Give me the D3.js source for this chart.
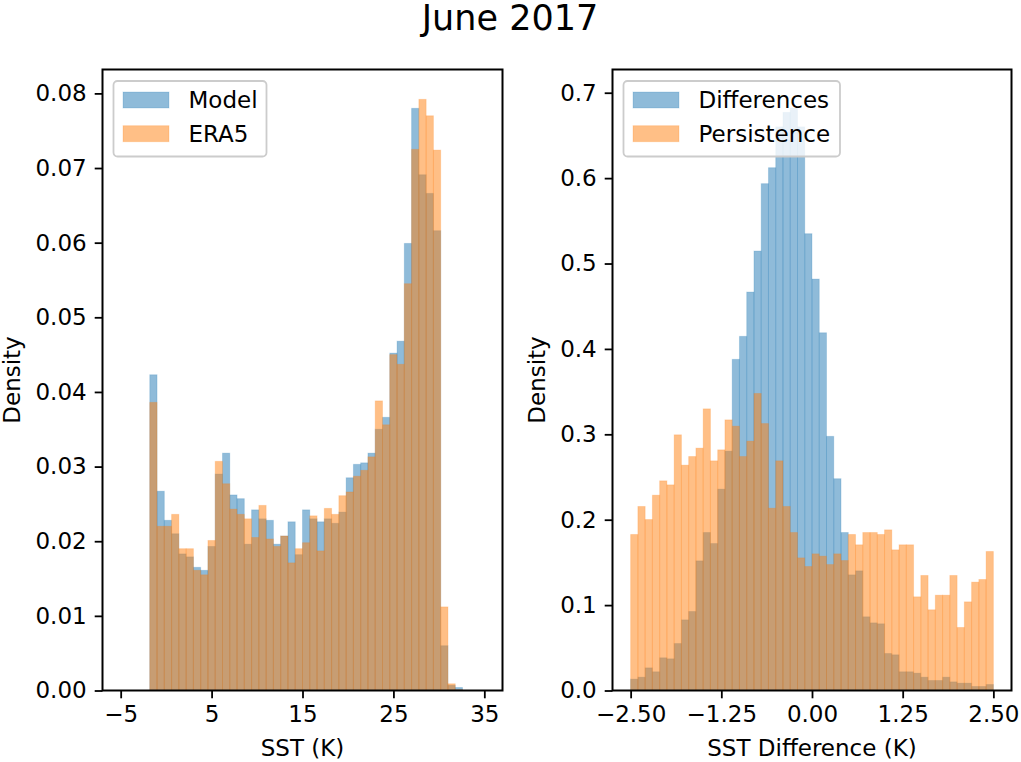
<!DOCTYPE html>
<html>
<head>
<meta charset="utf-8">
<script src="https://cdn.jsdelivr.net/npm/d3@7"></script>
<style>
html, body { margin: 0; padding: 0; background: #fff; }
text { font-family: "DejaVu Sans", sans-serif; fill: #000; }
</style>
</head>
<body>
<div id="chart-area"></div>
<script>
// left panel, 50 bins from -5 to 35
var sstEdges = [-5, 35];
var sstTicks = [-5, 5, 15, 25, 35];
var sstDensityTicks = [0, 0.01, 0.02, 0.03, 0.04, 0.05, 0.06, 0.07, 0.08];
var model = [0, 0, 0, 0,
    .0423, .0267, .0228, .0210, .0183, .0179, .0165, .0161, .0193, .0290,
    .0318, .0262, .0257, .0196, .0242, .0230, .0228, .0196, .0207, .0226,
    .0182, .0242, .0230, .0226, .0230, .0224, .0239, .0285, .0303, .0305,
    .0318, .0350, .0366, .0452, .0468, .0599, .0780, .0691, .0666, .0616,
    .0060, .0007, .0004, 0, 0, 0];
var era5 = [0, 0, 0, 0,
    .0386, .0220, .0220, .0236, .0190, .0190, .0161, .0155, .0201, .0307,
    .0277, .0243, .0236, .0230, .0205, .0248, .0203, .0193, .0207, .0171,
    .0190, .0198, .0234, .0187, .0244, .0236, .0261, .0266, .0287, .0295,
    .0313, .0388, .0356, .0450, .0437, .0545, .0725, .0792, .0770, .0724,
    .0112, .0009, .0001, 0, 0, 0];

// right panel, 50 bins from -2.5 to 2.5
var diffEdges = [-2.5, 2.5];
var diffTicks = [-2.5, -1.25, 0, 1.25, 2.5];
var diffDensityTicks = [0, 0.1, 0.2, 0.3, 0.4, 0.5, 0.6, 0.7];
var differences = [
    .0133, .0156, .0265, .0219, .0383, .0371, .0550, .0827, .0925, .1518,
    .1850, .1721, .2358, .2803, .3878, .4147, .4666, .5146, .5935, .6122,
    .6600, .6770, .6820, .6600, .5349, .4818, .4189, .2976, .2480, .1850,
    .1354, .1401, .0863, .0792, .0781, .0433, .0418, .0219, .0219, .0203,
    .0156, .0117, .0117, .0156, .0101, .0086, .0086, .0047, .0047, .0070];
var persistence = [
    .1827, .2155, .2002, .2287, .2455, .2408, .2994, .2639, .2740, .2838,
    .3298, .2689, .2818, .3169, .3095, .2740, .2920, .3478, .3126, .2135,
    .2689, .2155, .1850, .1553, .1452, .1600, .1573, .1475, .1600, .1522,
    .1827, .1706, .1850, .1850, .1827, .1881, .1647, .1706, .1706, .1097,
    .1347, .0945, .1116, .1116, .1347, .0738, .1038, .1269, .1300, .1628];

var minus = (s) => s.replace("-", "\u2212");
var blue = "#1f77b4", orange = "#ff7f0e";

var svg = d3.select("#chart-area").append("svg")
    .attr("width", 1021)
    .attr("height", 762)
    .style("display", "block");

svg.append("text")
    .attr("x", 510)
    .attr("y", 29.5)
    .attr("text-anchor", "middle")
    .style("font-size", "35px")
    .text("June 2017");

function panel(o) {
    var x = d3.scaleLinear().domain(o.xDomain).range([o.left, o.right]);
    var y = d3.scaleLinear().domain([0, o.yMax]).range([690.5, 69.5]);
    var binWidth = (o.edges[1] - o.edges[0]) / 50;

    [[o.values[0], blue], [o.values[1], orange]].forEach((s) => {
        svg.append("g").selectAll("rect").data(s[0]).enter().append("rect")
            .attr("x", (d, i) => x(o.edges[0] + i * binWidth))
            .attr("y", (d) => y(d))
            .attr("width", x(binWidth) - x(0))
            .attr("height", (d) => y(0) - y(d))
            .attr("fill", s[1])
            .attr("fill-opacity", 0.5)
            .attr("stroke", s[1])
            .attr("stroke-opacity", (d) => d > 0 ? 0.2 : 0)
            .attr("stroke-width", 1);
    });

    var xAxis = d3.axisBottom(x).tickValues(o.xTicks).tickSize(7.8).tickPadding(7)
        .tickFormat((d) => minus(o.xFormat(d)));
    var yAxis = d3.axisLeft(y).tickValues(o.yTicks).tickSize(7.8).tickPadding(8)
        .tickFormat(o.yFormat);

    [svg.append("g").attr("transform", "translate(0,690.5)").call(xAxis),
     svg.append("g").attr("transform", "translate(" + o.left + ",0)").call(yAxis)].forEach((g) => {
        g.select(".domain").remove();
        g.selectAll("line").attr("stroke", "#000").attr("stroke-width", 1.8);
        g.selectAll("text").style("font-size", "23px").attr("fill", "#000");
    });

    svg.append("rect")
        .attr("x", o.left)
        .attr("y", 69.5)
        .attr("width", o.right - o.left)
        .attr("height", 621)
        .attr("fill", "none")
        .attr("stroke", "#000")
        .attr("stroke-width", 2);

    svg.append("text")
        .attr("x", (o.left + o.right) / 2)
        .attr("y", 756)
        .attr("text-anchor", "middle")
        .style("font-size", "23px")
        .text(o.xLabel);

    svg.append("text")
        .attr("transform", "translate(" + o.yLabelX + ",380) rotate(-90)")
        .attr("text-anchor", "middle")
        .style("font-size", "23px")
        .text("Density");

    // legend
    var lx = o.left + 11;
    svg.append("rect")
        .attr("x", lx)
        .attr("y", 81)
        .attr("width", o.legendWidth)
        .attr("height", 75.5)
        .attr("rx", 4)
        .attr("fill", "#fff")
        .attr("fill-opacity", 0.8)
        .attr("stroke", "#ccc")
        .attr("stroke-width", 1.8);

    o.names.forEach((name, i) => {
        svg.append("rect")
            .attr("x", lx + 9.5)
            .attr("y", 92 + i * 33.7)
            .attr("width", 46)
            .attr("height", 16)
            .attr("fill", i == 0 ? blue : orange)
            .attr("fill-opacity", 0.5)
            .attr("stroke", i == 0 ? blue : orange)
            .attr("stroke-opacity", 0.2);
        svg.append("text")
            .attr("x", lx + 75)
            .attr("y", 108 + i * 33.7)
            .style("font-size", "23px")
            .text(name);
    });
}

panel({
    left: 102.5, right: 502.5,
    xDomain: [-7, 37], yMax: 0.0832,
    edges: sstEdges,
    values: [model, era5],
    xTicks: sstTicks, yTicks: sstDensityTicks,
    xFormat: d3.format("d"), yFormat: d3.format(".2f"),
    xLabel: "SST (K)", yLabelX: 20,
    names: ["Model", "ERA5"], legendWidth: 153
});

panel({
    left: 612.5, right: 1011.5,
    xDomain: [-2.75, 2.75], yMax: 0.7272,
    edges: diffEdges,
    values: [differences, persistence],
    xTicks: diffTicks, yTicks: diffDensityTicks,
    xFormat: d3.format(".2f"), yFormat: d3.format(".1f"),
    xLabel: "SST Difference (K)", yLabelX: 545,
    names: ["Differences", "Persistence"], legendWidth: 216.5
});
</script>
</body>
</html>
